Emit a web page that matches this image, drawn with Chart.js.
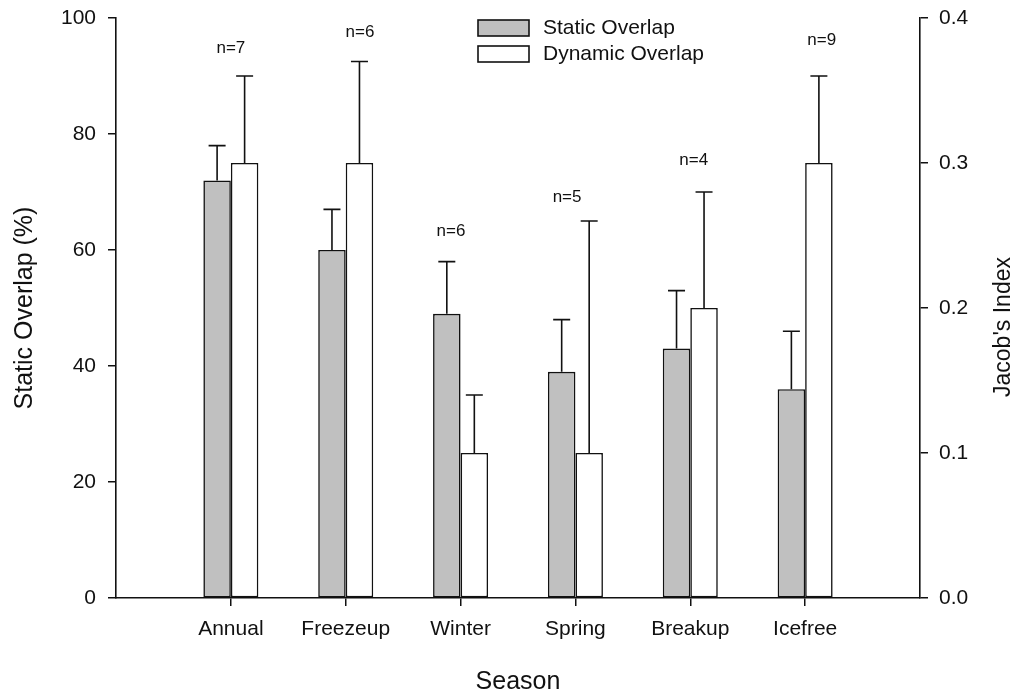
<!DOCTYPE html>
<html>
<head>
<meta charset="utf-8">
<script src="https://cdn.jsdelivr.net/npm/chart.js@4/dist/chart.umd.min.js"></script>
<style>
  html, body { margin: 0; padding: 0; background: #fff; }
  #wrap { width: 1025px; height: 698px; position: relative; }
</style>
</head>
<body>
<div id="wrap"><canvas id="c"></canvas></div>
<script>
// ---- data ----
const categories = ['Annual', 'Freezeup', 'Winter', 'Spring', 'Breakup', 'Icefree'];
const staticOverlap = [72, 60, 49, 39, 43, 36];          // % (left axis)
const staticErr     = [78, 67, 58, 48, 53, 46];          // upper error bar end
const dynamicOverlap = [0.30, 0.30, 0.10, 0.10, 0.20, 0.30]; // Jacob's index (right axis)
const dynamicErr     = [0.36, 0.37, 0.14, 0.26, 0.28, 0.36];
const nLabels = ['n=7', 'n=6', 'n=6', 'n=5', 'n=4', 'n=9'];
// label anchors in data units (x: category position, y: % on left axis)
const nLabelX = [1.0, 2.124, 2.917, 3.927, 5.03, 6.144];
const nLabelY = [94.8, 97.6, 63.2, 69.1, 75.5, 96.2];
const leftTicks = [0, 20, 40, 60, 80, 100];
const rightTicks = [0, 0.1, 0.2, 0.3, 0.4];

const FONT = "'Liberation Sans', Arial, sans-serif";
const INK = '#111';

const errorBarPlugin = {
  id: 'errorBars',
  afterDatasetsDraw(chart) {
    const ctx = chart.ctx;
    const errs = [staticErr, dynamicErr];
    const axes = ['y', 'y1'];
    ctx.save();
    ctx.strokeStyle = INK;
    ctx.lineWidth = 1.6;
    [0, 1].forEach(di => {
      const meta = chart.getDatasetMeta(di);
      const sc = chart.scales[axes[di]];
      meta.data.forEach((el, i) => {
        const yTop = sc.getPixelForValue(errs[di][i]);
        const x = el.x;
        ctx.beginPath();
        ctx.moveTo(x, el.y);
        ctx.lineTo(x, yTop);
        ctx.moveTo(x - 8.5, yTop);
        ctx.lineTo(x + 8.5, yTop);
        ctx.stroke();
      });
    });
    ctx.restore();
  }
};

const annotPlugin = {
  id: 'annot',
  afterDraw(chart) {
    const ctx = chart.ctx;
    const xs = chart.scales.x, ys = chart.scales.y;
    ctx.save();
    // n labels
    ctx.fillStyle = INK;
    ctx.font = '17px ' + FONT;
    ctx.textAlign = 'center';
    ctx.textBaseline = 'middle';
    nLabels.forEach((t, i) => {
      ctx.fillText(t, xs.getPixelForValue(nLabelX[i]), ys.getPixelForValue(nLabelY[i]));
    });
    // legend
    const ds = chart.data.datasets;
    const bx = 478, by = [20, 46];
    ctx.font = '21px ' + FONT;
    ctx.textAlign = 'left';
    ds.forEach((d, i) => {
      ctx.fillStyle = d.backgroundColor;
      ctx.fillRect(bx, by[i], 51, 16);
      ctx.strokeStyle = INK;
      ctx.lineWidth = 1.6;
      ctx.strokeRect(bx, by[i], 51, 16);
      ctx.fillStyle = INK;
      ctx.fillText(d.label, 543, by[i] + 8.5);
    });
    // right axis title (reads bottom to top)
    ctx.save();
    ctx.translate(1004, 327);
    ctx.rotate(-Math.PI / 2);
    ctx.font = '23px ' + FONT;
    ctx.textAlign = 'center';
    ctx.textBaseline = 'middle';
    ctx.fillText("Jacob's Index", 0, 0);
    ctx.restore();
    ctx.restore();
  }
};

const gridOpts = { display: true, drawOnChartArea: false, drawTicks: true, tickLength: 8, color: INK, lineWidth: 1.5, offset: false };
const borderOpts = { display: true, color: INK, width: 1.6 };
const zeroPad = s => { s.paddingTop = 0; s.paddingBottom = 0; s.paddingLeft = 0; s.paddingRight = 0; };

new Chart(document.getElementById('c'), {
  type: 'bar',
  data: {
    datasets: [
      {
        label: 'Static Overlap',
        data: categories.map((c, i) => ({ x: i + 1, y: staticOverlap[i] })),
        backgroundColor: '#c0c0c0',
        borderColor: INK,
        borderWidth: 1.6,
        borderSkipped: false,
        yAxisID: 'y'
      },
      {
        label: 'Dynamic Overlap',
        data: categories.map((c, i) => ({ x: i + 1, y: dynamicOverlap[i] })),
        backgroundColor: '#ffffff',
        borderColor: INK,
        borderWidth: 1.6,
        borderSkipped: false,
        yAxisID: 'y1'
      }
    ]
  },
  options: {
    responsive: true,
    maintainAspectRatio: false,
    animation: false,
    devicePixelRatio: 1,
    categoryPercentage: 0.479,
    barPercentage: 1.0,
    layout: { padding: { top: 18, left: 0, right: 0, bottom: 0 } },
    plugins: { legend: { display: false }, tooltip: { enabled: false } },
    scales: {
      x: {
        type: 'linear',
        min: 0, max: 7,
        offset: false,
        grid: gridOpts,
        border: borderOpts,
        afterBuildTicks: s => { s.ticks = categories.map((c, i) => ({ value: i + 1 })); },
        afterFit: s => { s.height = 100; zeroPad(s); },
        ticks: {
          autoSkip: false, maxRotation: 0, padding: 11,
          color: INK, font: { family: FONT, size: 21 },
          callback: v => categories[v - 1] ?? ''
        },
        title: { display: true, text: 'Season', color: INK, font: { family: FONT, size: 25 }, padding: { top: 0, bottom: 1 } }
      },
      y: {
        position: 'left',
        min: 0, max: 100,
        grid: gridOpts,
        border: borderOpts,
        afterBuildTicks: s => { s.ticks = leftTicks.map(v => ({ value: v })); },
        afterFit: s => { s.width = 116; zeroPad(s); },
        ticks: { padding: 12, color: INK, font: { family: FONT, size: 21 } },
        title: { display: true, text: 'Static Overlap (%)', color: INK, font: { family: FONT, size: 25 }, padding: { top: 10, bottom: 0 } }
      },
      y1: {
        position: 'right',
        min: 0, max: 0.4,
        grid: gridOpts,
        border: borderOpts,
        afterBuildTicks: s => { s.ticks = rightTicks.map(v => ({ value: v })); },
        afterFit: s => { s.width = 105; zeroPad(s); },
        ticks: { padding: 11, color: INK, font: { family: FONT, size: 21 }, callback: v => v.toFixed(1) },
        title: { display: false }
      }
    }
  },
  plugins: [errorBarPlugin, annotPlugin]
});
</script>
</body>
</html>
